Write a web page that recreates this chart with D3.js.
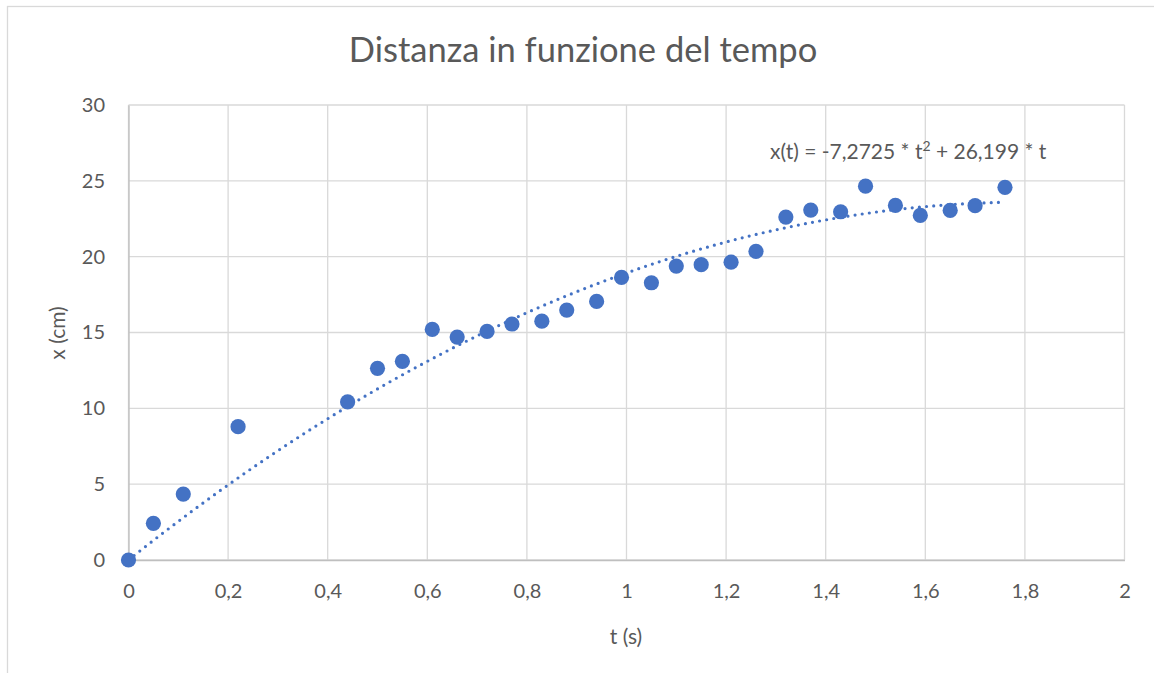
<!DOCTYPE html>
<html>
<head>
<meta charset="utf-8">
<script src="https://cdn.jsdelivr.net/npm/d3@7"></script>
<style>
  body { margin: 0; background: #fff; }
  text { font-family: Lato, "Open Sans", sans-serif; fill: #595959; }
</style>
</head>
<body>
<div id="chart"></div>
<script>
var tempi = [0, 0.05, 0.11, 0.22, 0.44, 0.5, 0.55, 0.61, 0.66, 0.72, 0.77, 0.83, 0.88, 0.94, 0.99,
             1.05, 1.10, 1.15, 1.21, 1.26, 1.32, 1.37, 1.43, 1.48, 1.54, 1.59, 1.65, 1.70, 1.76];
var distanze = [0, 2.42, 4.35, 8.79, 10.42, 12.64, 13.1, 15.2, 14.7, 15.07, 15.56, 15.75, 16.48, 17.05, 18.63,
                18.28, 19.38, 19.47, 19.64, 20.35, 22.61, 23.07, 22.96, 24.65, 23.38, 22.72, 23.05, 23.36, 24.57];

// coefficienti della linea di tendenza (polinomiale, intercetta 0)
var coefA = -7.2725, coefB = 26.199;

var xTicks = [0, 0.2, 0.4, 0.6, 0.8, 1, 1.2, 1.4, 1.6, 1.8, 2];
var yTicks = [0, 5, 10, 15, 20, 25, 30];

var W = 1154, H = 673;
var margin = {top: 105, right: 30, bottom: 113, left: 128.5},
    width = 1124.5 - margin.left,
    height = 560 - margin.top;

var svg = d3.select("#chart").append("svg")
    .attr("width", W)
    .attr("height", H);

// bordo area grafico
svg.append("rect")
    .attr("x", 7.5).attr("y", 6.5)
    .attr("width", 1160).attr("height", 700)
    .attr("fill", "none")
    .attr("stroke", "#d9d9d9")
    .attr("stroke-width", 1.3);

// titolo
svg.append("text")
    .attr("x", 583).attr("y", 62)
    .attr("text-anchor", "middle")
    .style("font-size", "34.5px")
    .text("Distanza in funzione del tempo");

var g = svg.append("g")
    .attr("transform", "translate(" + margin.left + "," + margin.top + ")");

var x = d3.scaleLinear().domain([0, 2]).range([0, width]);
var y = d3.scaleLinear().domain([0, 30]).range([height, 0]);

// griglia
g.selectAll(".vgrid")
    .data(xTicks)
    .enter().append("line")
    .attr("x1", d => x(d)).attr("x2", d => x(d))
    .attr("y1", 0).attr("y2", height)
    .attr("stroke", "#d9d9d9").attr("stroke-width", 1.3);

g.selectAll(".hgrid")
    .data(yTicks)
    .enter().append("line")
    .attr("x1", 0).attr("x2", width)
    .attr("y1", d => y(d)).attr("y2", d => y(d))
    .attr("stroke", "#d9d9d9").attr("stroke-width", 1.3);

// assi
g.append("g")
    .attr("transform", "translate(0," + height + ")")
    .call(d3.axisBottom(x).tickValues(xTicks).tickSize(0).tickPadding(24)
        .tickFormat(d => String(d).replace(".", ",")))
    .call(a => a.select(".domain").attr("stroke", "#bfbfbf").attr("stroke-width", 1.3))
    .selectAll("text").style("font-size", "20px").attr("fill", "#595959");

g.append("g")
    .call(d3.axisLeft(y).tickValues(yTicks).tickSize(0).tickPadding(23.5))
    .call(a => a.select(".domain").attr("stroke", "#bfbfbf").attr("stroke-width", 1.3))
    .selectAll("text").style("font-size", "20px").attr("fill", "#595959");

// titoli assi
svg.append("text")
    .attr("x", 626).attr("y", 644)
    .attr("text-anchor", "middle")
    .style("font-size", "21px")
    .text("t (s)");

svg.append("text")
    .attr("transform", "translate(65,333) rotate(-90)")
    .attr("text-anchor", "middle")
    .style("font-size", "21px")
    .text("x (cm)");

// linea di tendenza
var tMax = d3.max(tempi);
var trend = d3.range(0, tMax + 0.0001, tMax / 200).map(t => [t, coefA * t * t + coefB * t]);

g.append("path")
    .datum(trend)
    .attr("fill", "none")
    .attr("stroke", "#4472C4")
    .attr("stroke-width", 3.2)
    .attr("stroke-linecap", "round")
    .attr("stroke-dasharray", "0,7.2")
    .attr("d", d3.line().x(d => x(d[0])).y(d => y(d[1])));

// punti
g.selectAll(".punto")
    .data(tempi.map((t, i) => [t, distanze[i]]))
    .enter().append("circle")
    .attr("cx", d => x(d[0]))
    .attr("cy", d => y(d[1]))
    .attr("r", 7.6)
    .attr("fill", "#4472C4");

// equazione
var eq = svg.append("text")
    .attr("x", 770).attr("y", 159)
    .style("font-size", "21px");
eq.append("tspan").text("x(t) = -7,2725 * t");
eq.append("tspan").attr("dy", -8).style("font-size", "14px").text("2");
eq.append("tspan").attr("dy", 8).text(" + 26,199 * t");
</script>
</body>
</html>
